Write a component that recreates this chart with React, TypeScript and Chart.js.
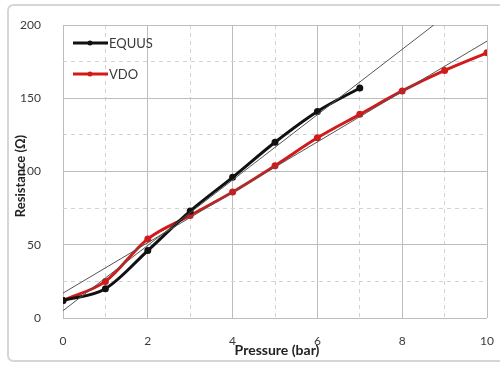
import React, { useEffect, useRef } from "react";
import { Chart, registerables } from "chart.js";

Chart.register(...registerables);

const pressureEquus = [0, 1, 2, 3, 4, 5, 6, 7];
const resistanceEquus = [12, 20, 46, 73, 96, 120, 141, 157];
const pressureVdo = [0, 1, 2, 3, 4, 5, 6, 7, 8, 9, 10];
const resistanceVdo = [12, 25, 54, 70, 86, 104, 123, 139, 155, 169, 181];
const trendEquusX = [0, 10];
const trendEquusY = [5, 228];
const trendVdoX = [0, 10];
const trendVdoY = [17, 189];
const legendLabels = ["EQUUS", "VDO"];
const xTitle = "Pressure (bar)";
const yTitle = "Resistance (Ω)";

const FONT = "Lato, 'Open Sans', sans-serif";
const TEXT = "#3a3a3a";
const RED = "#d11a1a";
const BLACK = "#111111";

const toXY = (xs: number[], ys: number[]) => xs.map((x, i) => ({ x, y: ys[i] }));

const overlayPlugin = {
  id: "overlay",
  beforeDraw(chart: any) {
    const ctx = chart.ctx;
    ctx.save();
    ctx.fillStyle = "#ffffff";
    ctx.fillRect(0, 0, chart.width, chart.height);
    ctx.strokeStyle = "#d6d6d6";
    ctx.lineWidth = 2;
    const r = 6;
    const x0 = 8, y0 = 5, x1 = 510, y1 = 361;
    ctx.beginPath();
    ctx.moveTo(x0 + r, y0);
    ctx.lineTo(x1, y0);
    ctx.moveTo(x1, y1);
    ctx.lineTo(x0 + r, y1);
    ctx.quadraticCurveTo(x0, y1, x0, y1 - r);
    ctx.lineTo(x0, y0 + r);
    ctx.quadraticCurveTo(x0, y0, x0 + r, y0);
    ctx.stroke();
    ctx.restore();
  },
  afterDraw(chart: any) {
    const ctx = chart.ctx;
    const area = chart.chartArea;
    ctx.save();
    const colors = [BLACK, RED];
    legendLabels.forEach((lab, i) => {
      const y = 43 + i * 31;
      ctx.strokeStyle = colors[i];
      ctx.lineWidth = 3;
      ctx.beginPath();
      ctx.moveTo(73, y);
      ctx.lineTo(108, y);
      ctx.stroke();
      ctx.fillStyle = colors[i];
      ctx.beginPath();
      ctx.arc(90, y, 2.5, 0, Math.PI * 2);
      ctx.fill();
      ctx.fillStyle = TEXT;
      ctx.font = `13px ${FONT}`;
      ctx.textAlign = "left";
      ctx.textBaseline = "middle";
      ctx.fillText(lab, 109, y + 1);
    });
    ctx.fillStyle = "#222";
    ctx.font = `bold 14px ${FONT}`;
    ctx.textAlign = "center";
    ctx.textBaseline = "middle";
    ctx.fillText(xTitle, (area.left + area.right) / 2 + 2, 350);
    ctx.font = `bold 13px ${FONT}`;
    ctx.translate(21, 176);
    ctx.rotate(-Math.PI / 2);
    ctx.fillText(yTitle, 0, 0);
    ctx.restore();
  },
};

export default function App() {
  const ref = useRef<HTMLCanvasElement>(null);
  useEffect(() => {
    if (!ref.current) return;
    const chart = new Chart(ref.current, {
      type: "line",
      data: {
        datasets: [
          {
            label: "EQUUS trend",
            data: toXY(trendEquusX, trendEquusY),
            borderColor: "#555555",
            borderWidth: 1,
            pointRadius: 0,
            order: 0,
          },
          {
            label: "VDO trend",
            data: toXY(trendVdoX, trendVdoY),
            borderColor: "#555555",
            borderWidth: 1,
            pointRadius: 0,
            order: 0,
          },
          {
            label: legendLabels[0],
            data: toXY(pressureEquus, resistanceEquus),
            borderColor: BLACK,
            backgroundColor: BLACK,
            borderWidth: 3,
            pointRadius: 2,
            cubicInterpolationMode: "monotone",
            order: 1,
          },
          {
            label: legendLabels[1],
            data: toXY(pressureVdo, resistanceVdo),
            borderColor: RED,
            backgroundColor: RED,
            borderWidth: 3,
            pointRadius: 2,
            cubicInterpolationMode: "monotone",
            order: 1,
          },
        ],
      },
      options: {
        responsive: false,
        animation: false,
        layout: { padding: { left: 0, right: 13, top: 25, bottom: 0 } },
        plugins: { legend: { display: false }, tooltip: { enabled: false } },
        scales: {
          x: {
            type: "linear",
            min: 0,
            max: 10,
            afterFit: (s: any) => { s.height = 48; s.paddingLeft = 0; s.paddingRight = 0; },
            ticks: {
              stepSize: 1,
              padding: 16,
              color: TEXT,
              font: { family: FONT, size: 12 },
              maxRotation: 0,
              autoSkip: false,
              callback: (v: any) => (Number(v) % 2 === 0 ? String(v) : ""),
            },
            grid: {
              drawTicks: false,
              color: (c: any) => (c.tick && c.tick.value % 2 === 0 ? "#bdbdbd" : "#d2d2d2"),
              lineWidth: 1,
            },
            border: {
              display: false,
              dash: (c: any) => (c.tick && c.tick.value % 2 === 0 ? [] : [4, 4]),
            },
          },
          y: {
            min: 0,
            max: 200,
            afterFit: (s: any) => { s.width = 63; s.paddingTop = 0; s.paddingBottom = 0; },
            ticks: {
              stepSize: 25,
              padding: 22,
              color: TEXT,
              font: { family: FONT, size: 12 },
              autoSkip: false,
              callback: (v: any) => (Number(v) % 50 === 0 ? String(v) : ""),
            },
            grid: {
              drawTicks: false,
              color: (c: any) => (c.tick && c.tick.value % 50 === 0 ? "#bdbdbd" : "#d2d2d2"),
              lineWidth: 1,
            },
            border: {
              display: false,
              dash: (c: any) => (c.tick && c.tick.value % 50 === 0 ? [] : [4, 4]),
            },
          },
        },
      },
      plugins: [overlayPlugin],
    } as any);
    return () => chart.destroy();
  }, []);
  return (
    <div style={{ position: "absolute", left: 0, top: 0, width: 500, height: 366 }}>
      <canvas ref={ref} width={500} height={366} />
    </div>
  );
}
